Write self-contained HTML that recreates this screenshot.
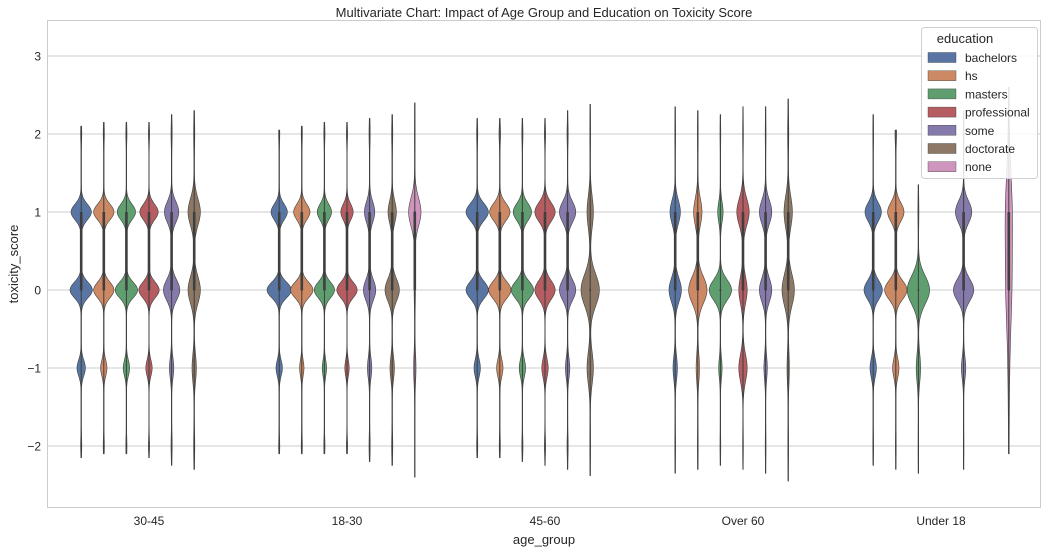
<!DOCTYPE html>
<html><head><meta charset="utf-8"><style>
body{margin:0;background:#fff;font-family:"Liberation Sans",Arial,sans-serif}
svg text{font-family:"Liberation Sans",Arial,sans-serif;fill:#262626}
</style></head><body>
<svg id="chart" width="1049" height="554" xmlns="http://www.w3.org/2000/svg">
<rect width="1049" height="554" fill="#fff"/>
<text x="544" y="17" font-size="13" text-anchor="middle">Multivariate Chart: Impact of Age Group and Education on Toxicity Score</text>
<g id="grid"></g>
<g id="violins"></g>
<rect x="47.5" y="20.5" width="993" height="487" fill="none" stroke="#cccccc" stroke-width="1"/>
<g id="xticks"></g>
<g id="yticks"></g>
<text x="544" y="544" font-size="13" text-anchor="middle">age_group</text>
<text transform="translate(18,264) rotate(-90)" font-size="13" text-anchor="middle">toxicity_score</text>
<g id="legend"></g>
</svg>
<script>
const groups = ["30-45","18-30","45-60","Over 60","Under 18"];
const hues = ["bachelors","hs","masters","professional","some","doctorate","none"];
const colors = ["#5875a4","#cc8963","#5f9e6e","#b55d60","#857aab","#8d7866","#d095bf"];
const yTicks = [-2,-1,0,1,2,3];
const levels = [-2,-1,0,1,2];
const violinGroup = [0,0,0,0,0,0, 1,1,1,1,1,1,1, 2,2,2,2,2,2, 3,3,3,3,3,3, 4,4,4,4,4];
const violinHue   = [0,1,2,3,4,5, 0,1,2,3,4,5,6, 0,1,2,3,4,5, 0,1,2,3,4,5, 0,1,2,4,6];
const violinDens = [
 [1,4,11,10,1],[1,3,10,10,1],[1,3,11,9,1],[1,3,10,9,1],[1,2,8,7,1],[1,2,6,6,1],
 [1,3,12,8,1],[1,2,11,8,1],[1,2,10,7,1],[1,2,10,6,1],[1,2,6,5,1],[1,2,7,4,1],[0,1,0.5,6,0.3],
 [1,3,11,11,1],[1,3,11,10,1.5],[1,3,11,9,1],[1,3,10,10,1],[1,2,8,8,1],[0.5,3,9,3,0.5],
 [0.5,2,6,5,0.5],[0.5,1.5,9,4,0.5],[0.5,1.5,11,2.5,0.5],[0.5,4,4,6,0.5],[0.5,1.5,6,6,0.5],[0.5,1,6,4,1],
 [0.5,3,9,8,0.5],[0.5,3,11,8,1.5],[0.3,2,11,0.3,0],[0.3,2,10,8,0.5],[0.3,0.5,2.5,3,0.5]
];
const violinBw = [.1,.1,.1,.1,.13,.17, .1,.1,.1,.1,.13,.14,.18, .11,.11,.11,.12,.13,.2, .15,.17,.13,.17,.15,.2, .12,.12,.18,.14,.5];
const violinMin = [-2.15,-2.1,-2.1,-2.15,-2.25,-2.3, -2.1,-2.1,-2.1,-2.1,-2.2,-2.25,-2.4, -2.15,-2.15,-2.2,-2.25,-2.3,-2.38, -2.35,-2.3,-2.25,-2.3,-2.35,-2.45, -2.25,-2.3,-2.35,-2.3,-2.1];
const violinMax = [2.1,2.15,2.15,2.15,2.25,2.3, 2.05,2.1,2.15,2.15,2.2,2.25,2.4, 2.2,2.2,2.2,2.2,2.3,2.38, 2.35,2.3,2.25,2.35,2.35,2.45, 2.25,2.05,1.35,2.3,2.6];
const violinQ1 = [0,0,0,0,0,0, 0,0,0,0,0,0,0, 0,0,0,0,0,0, 0,0,0,0,0,0, 0,0,0,0,0];
const violinQ3 = [1,1,1,1,1,1, 1,1,1,1,1,1,1, 1,1,1,1,1,0, 1,1,0,1,1,1, 1,1,0,1,1];
const violinMed = [0,0,0,0,0,0, 0,0,0,0,0,0,1, 0,0,0,0,0,0, 0,0,0,0,0,0, 0,0,0,0,0];

const NS="http://www.w3.org/2000/svg";
const yScale = v => 290 - v*78;
const groupX = i => 149 + i*198;
const hueX = (g,h) => groupX(g) + (h-3)*22.6;
function mk(tag, attrs, parent){const e=document.createElementNS(NS,tag);for(const k in attrs)e.setAttribute(k,attrs[k]);parent.appendChild(e);return e;}

const grid=document.getElementById('grid'), yt=document.getElementById('yticks'), xt=document.getElementById('xticks');
yTicks.forEach(t=>{
  const l=mk('line',{x1:48,x2:1040,y1:yScale(t),y2:yScale(t),stroke:'#cccccc','stroke-width':1},grid);
  
  
  const tx=mk('text',{x:41,y:yScale(t)+4.5,'font-size':12,'text-anchor':'end'},yt);
  tx.textContent = t<0 ? '\u2212'+Math.abs(t) : String(t);
  
  
});
groups.forEach((g,i)=>{
  const tx=mk('text',{x:groupX(i),y:525,'font-size':12,'text-anchor':'middle'},xt);
  tx.textContent=g;
  
  
});

const vg=document.getElementById('violins');
for(let i=0;i<violinDens.length;i++){
  const cx=hueX(violinGroup[i],violinHue[i]);
  const d=violinDens[i], bw=violinBw[i], lo=violinMin[i], hi=violinMax[i];
  const pts=[]; const N=240;
  for(let k=0;k<=N;k++){
    const v=lo+(hi-lo)*k/N;
    let w=0.2;
    levels.forEach((L,j)=>{const a=(Math.abs(L)===2)?d[j]*0.4:d[j];w+=a*Math.exp(-((v-L)*(v-L))/(2*bw*bw));});
    pts.push([v,w]);
  }
  let p='M'+(cx+pts[0][1]).toFixed(2)+','+yScale(pts[0][0]).toFixed(2);
  pts.forEach(q=>{p+='L'+(cx+q[1]).toFixed(2)+','+yScale(q[0]).toFixed(2);});
  for(let k=pts.length-1;k>=0;k--){p+='L'+(cx-pts[k][1]).toFixed(2)+','+yScale(pts[k][0]).toFixed(2);}
  p+='Z';
  const g=mk('g',{},vg);
  
  
  mk('path',{d:p,fill:colors[violinHue[i]],stroke:'#3f3f3f','stroke-width':0.6},g);
  mk('line',{x1:cx,x2:cx,y1:yScale(lo),y2:yScale(hi),stroke:'#3f3f3f','stroke-width':1},g);
  if(violinQ3[i]>violinQ1[i]) mk('line',{x1:cx,x2:cx,y1:yScale(violinQ1[i]),y2:yScale(violinQ3[i]),stroke:'#3f3f3f','stroke-width':2.6},g);
  mk('circle',{cx:cx,cy:yScale(violinMed[i]),r:1,fill:'#3f3f3f'},g);
}

const lg=document.getElementById('legend');
const box=mk('rect',{x:921.5,y:27.5,width:116,height:151,rx:3,fill:'#ffffff','fill-opacity':0.85,stroke:'#d0d0d0'},lg);


const lt=mk('text',{x:965,y:43,'font-size':13,'text-anchor':'middle'},lg);
lt.textContent='education';


hues.forEach((h,i)=>{
  const y=57.5+i*18.2;
  const e=mk('g',{},lg);
  
  
  mk('rect',{x:928,y:y-5,width:28,height:10,fill:colors[i],stroke:'#3f3f3f','stroke-width':0.4},e);
  const t=mk('text',{x:965,y:y+4.5,'font-size':12},e);
  t.textContent=h;
});
</script>
</body></html>
